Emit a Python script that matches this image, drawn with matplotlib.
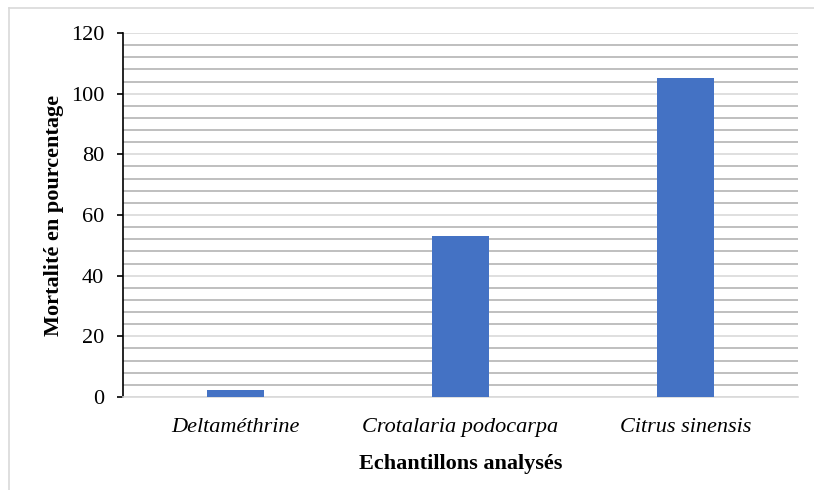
import matplotlib
matplotlib.use("Agg")
import matplotlib.pyplot as plt
from matplotlib.lines import Line2D
from matplotlib.ticker import MultipleLocator

categories = ["Deltaméthrine", "Crotalaria podocarpa", "Citrus sinensis"]
mortality = [2.3, 53.1, 105.2]
y_ticks = [0, 20, 40, 60, 80, 100, 120]

plt.rcParams['font.family'] = ['Liberation Serif', 'DejaVu Serif']
FS = 16

fig = plt.figure(figsize=(8.14, 4.90), dpi=100)
ax = fig.add_axes([123/814, 1-397/490, (798-123)/814, (397-33)/490])

x = list(range(len(categories)))
ax.bar(x, mortality, width=0.25, color="#4472C4", zorder=3)

ax.set_xlim(-0.5, len(categories) - 0.5)
ax.set_ylim(0, 120)
ax.set_yticks(y_ticks)
ax.set_yticklabels([str(v) for v in y_ticks], fontsize=FS)
ax.yaxis.set_minor_locator(MultipleLocator(4))
ax.set_xticks(x)
ax.set_xticklabels(categories, fontsize=FS, style='italic')

ax.grid(True, which='major', axis='y', color='#d9d9d9', linewidth=1.2, zorder=0)
ax.grid(True, which='minor', axis='y', color='#b4b4b4', linewidth=1.2, zorder=0)
ax.set_axisbelow(True)

for s in ['top', 'right']:
    ax.spines[s].set_visible(False)
ax.spines['bottom'].set_color('#d9d9d9')
ax.spines['bottom'].set_linewidth(1.2)
ax.spines['left'].set_color('black')
ax.spines['left'].set_linewidth(1.2)

ax.tick_params(axis='y', which='major', direction='out', length=4.5, width=1.2, pad=9, colors='black')
ax.tick_params(axis='y', which='minor', length=0)
ax.tick_params(axis='x', which='both', length=0, pad=15)

ax.set_ylabel("Mortalité en pourcentage", fontsize=FS, fontweight='bold', labelpad=5)
ax.set_xlabel("Echantillons analysés", fontsize=FS, fontweight='bold', labelpad=12)

# outer chart border (top and left visible)
fig.add_artist(Line2D([9/814, 9/814], [0, 1-8/490], transform=fig.transFigure, color='#d9d9d9', linewidth=1.2))
fig.add_artist(Line2D([9/814, 1], [1-8/490, 1-8/490], transform=fig.transFigure, color='#d9d9d9', linewidth=1.2))

fig.savefig("out.png", dpi=100)
